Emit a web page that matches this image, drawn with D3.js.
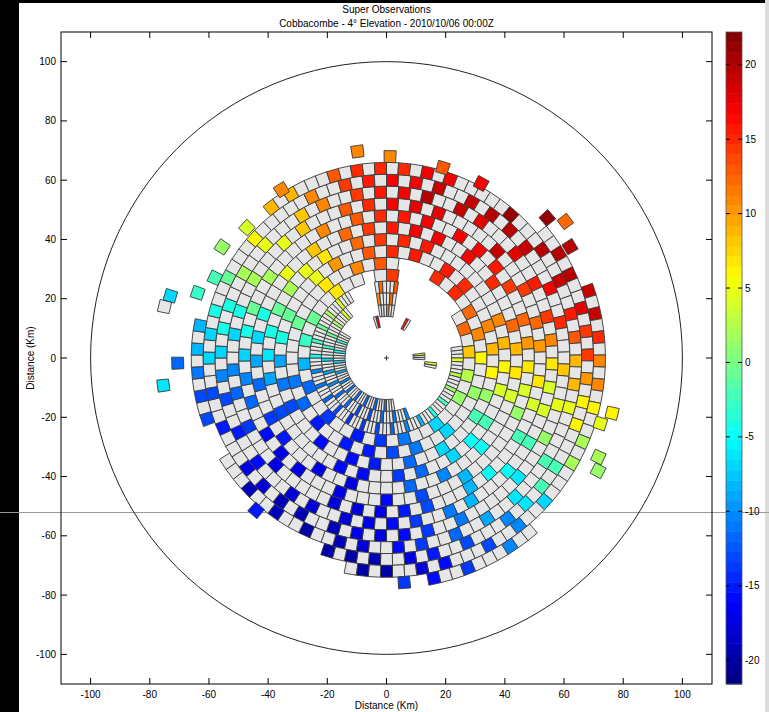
<!DOCTYPE html>
<html>
<head>
<meta charset="utf-8">
<script src="https://cdn.jsdelivr.net/npm/d3@7"></script>
<style>
  body { margin: 0; background: #fff; }
  svg { display: block; font-family: "Liberation Sans", Arial, sans-serif; }
</style>
</head>
<body>
<svg id="chart" width="769" height="712"></svg>
<script>
const NA = null;

// inner edge (km) of each 4 km deep ring of super observations
const ringInner = [14, 18, 22, 26, 30, 34, 38, 42, 46, 50, 54, 58, 62, 66, 70, 74];

// radial velocity (m/s) per ring, one value per 10 deg azimuth sector (0-10, 10-20, ... 350-360)
const obs16 = [11, NA, NA, NA, NA, NA, NA, NA, NA, NA, NA, NA, NA, NA, NA, NA, NA, -10, -11, -12, -12, -12, -11, -11, -10, -8, -7, -5, -3, -1, NA, NA, NA, NA, NA, 10];
const obs20 = [12, NA, NA, NA, NA, NA, NA, NA, NA, NA, NA, NA, NA, NA, NA, NA, -10, -11, -12, -13, -13, -13, -12, -12, -10, -9, -7, -5, -3, -1, 2, 4, NA, NA, NA, 11];
const obs24 = [13, NA, NA, NA, NA, NA, NA, NA, 8, 5, 3, 1, -2, -4, -6, -8, -10, -12, -13, -14, -14, -14, -13, -12, -11, -10, -8, -5, -3, -1, 2, 4, 6, NA, NA, 12];
const obs28 = [14, NA, NA, NA, NA, NA, 12, 10, 8, 6, 3, 1, -2, -4, -7, -9, -11, -13, -14, -15, -15, -15, -14, -13, -12, -10, -8, -6, -3, -1, 2, 4, 7, 9, NA, 13];
const obs32 = [14, NA, NA, 15, 15, 14, 12, 11, 8, 6, 3, 1, -2, -5, -7, -9, -11, -13, -14, -15, -15, -15, -15, -14, -12, -11, -8, -6, -3, -1, 2, 5, 7, 9, 11, 13];
const obs36 = [15, 16, 16, 16, 15, 14, 13, 11, 9, 6, 4, 1, -2, -5, -7, -10, -12, -13, -15, -16, -16, -16, -15, -14, -13, -11, -9, -6, -4, -1, 2, 5, 7, 10, 12, 13];
const obs40 = [15, 16, 16, 16, 16, 15, 13, 11, 9, 6, 4, 1, -2, -5, -7, -10, -12, -14, -15, -16, -16, -16, -16, -15, -13, -11, -9, -6, -4, -1, 2, 5, 7, 10, 12, 14];
const obs44 = [16, 17, 17, 17, 16, 15, 14, 12, 9, 7, 4, 1, -2, -5, -8, -10, -12, -14, -16, -17, -17, -17, -16, -15, -14, -12, -9, -7, -4, -1, 2, 5, 8, 10, 12, 14];
const obs48 = [16, 17, 17, 17, 17, 16, 14, 12, 10, 7, 4, 1, -2, -5, -8, -11, -13, -15, -16, -17, -17, -17, -17, -16, -14, -12, -10, -7, -4, -1, 2, 5, 8, 11, 13, 15];
const obs52 = [17, 18, 18, 18, 19, 16, 14, 12, 10, 7, 4, 1, -2, -5, -8, -11, -13, -15, -17, -18, -18, -18, -17, -16, -14, -12, -10, -7, -4, -1, 2, 5, 8, 11, 13, 15];
const obs56 = [17, 20, 19, 18, 19, 18, 16, 14, 11, 7, 4, 1, -2, -5, -8, -11, -14, -16, -17, -18, -18, -18, -18, -16, -15, -13, -10, -7, -4, -1, 2, 5, 8, 11, 14, 16];
const obs60 = [17, 19, 19, 20, 20, 19, 17, 15, 12, 8, 5, 1, -2, -6, -9, -11, -14, -16, -17, -19, -19, -19, -18, -17, -15, -13, -10, -7, -4, -1, 2, 6, 9, 11, 14, 16];
const obs64 = [15, 17, 20, 19, 21, 20, 19, 16, 13, 9, 5, 2, -2, -6, -9, -12, -14, -16, -18, -19, -20, -19, -19, -17, NA, -13, -11, -8, NA, NA, NA, NA, 9, 12, 13, 15];
const obs68 = [NA, NA, NA, NA, NA, 20, 20, 18, 14, 10, 6, 2, -2, -6, -10, -13, -15, -17, -19, -20, NA, NA, NA, NA, NA, NA, NA, NA, NA, NA, NA, NA, NA, NA, NA, NA];
const obs72 = [NA, NA, NA, NA, NA, NA, NA, 19, 15, 11, 6, 2, -3, -7, -10, -13, -16, -18, -20, NA, NA, NA, NA, NA, NA, NA, NA, NA, NA, NA, NA, NA, NA, NA, NA, NA];
const obs76 = [NA, NA, NA, NA, NA, NA, NA, NA, NA, NA, NA, NA, NA, NA, -10, -14, -16, NA, NA, NA, NA, NA, NA, NA, NA, NA, NA, NA, NA, NA, NA, NA, NA, NA, NA, NA];
const ringValues = [obs16, obs20, obs24, obs28, obs32, obs36, obs40, obs44, obs48, obs52, obs56, obs60, obs64, obs68, obs72, obs76];

// isolated super observations beyond the main area (range km, azimuth deg, value; NA = no colour)
const isoRange   = [70.4, 68, 67, 67, 67, 64.5, 67, 64, 67.5, 76, 77, 70.6, 76, 67.7, 76, 72, 76, 72.5, 78.5, 75.6, 79, 81];
const isoAzimuth = [352, 1, 16.5, 28.5, 328, 313, 304, 295, 289, 286, 283, 268.6, 263, 220.6, 175.5, 49, 52.7, 58.8, 103.7, 107, 115, 118];
const isoValue   = [11, 11, 13, 17, 11, 4, 1, -2, -3, -7, NA, -12, -6, -15, -14, 21, 12, 20, 6, 5, 2, 1];

// small narrow cells close to the radar (range km, azimuth deg, value)
const nearRange   = [12.5, 12.5, 13, 13, 11, 11, 11, 15, 15];
const nearAzimuth = [347, 343.5, 28, 31.5, 84, 87.5, 91, 97, 100.5];
const nearValue   = [17, NA, 16, NA, 5, NA, NA, 4, NA];

const axisTicks = [-100, -80, -60, -40, -20, 0, 20, 40, 60, 80, 100];
const cbTicks = [-20, -15, -10, -5, 0, 5, 10, 15, 20];
const cbMin = -21.6, cbMax = 22.2;

const svg = d3.select("#chart");
const x = d3.scaleLinear().domain([-110, 110]).range([61, 712]);
const y = d3.scaleLinear().domain([-110, 110]).range([684, 32]);
const cb = d3.scaleLinear().domain([cbMin, cbMax]).range([684, 32]);
const rad = Math.PI / 180;

// matlab style jet, 64 levels
function jet(t) {
  const c = v => Math.round(255 * Math.max(0, Math.min(1, v)));
  return `rgb(${c(1.5 - Math.abs(4 * t - 3))},${c(1.5 - Math.abs(4 * t - 2))},${c(1.5 - Math.abs(4 * t - 1))})`;
}
function color(v) {
  let i = Math.floor((v - cbMin) / (cbMax - cbMin) * 64);
  i = Math.max(0, Math.min(63, i));
  return jet((i + 0.5) / 64);
}
function pt(r, az) { return [x(r * Math.sin(az * rad)), y(r * Math.cos(az * rad))]; }
function cellPath(r0, r1, a0, a1) {
  return "M" + [pt(r0, a0), pt(r0, a1), pt(r1, a1), pt(r1, a0)].join("L") + "Z";
}

// frame bits of the screenshot
svg.append("rect").attr("x", 0).attr("y", 0).attr("width", 769).attr("height", 712).attr("fill", "#fff");
svg.append("rect").attr("x", 0).attr("y", 0).attr("width", 19).attr("height", 712).attr("fill", "#000");
svg.append("rect").attr("x", 0).attr("y", 0).attr("width", 765).attr("height", 3).attr("fill", "#000");
svg.append("rect").attr("x", 765).attr("y", 0).attr("width", 4).attr("height", 712).attr("fill", "#dcdcdc");
svg.append("line").attr("x1", 0).attr("x2", 769).attr("y1", 512.5).attr("y2", 512.5)
  .attr("stroke", "#9a9a9a").attr("stroke-width", 1);

// range ring at 100 km
svg.append("ellipse")
  .attr("cx", x(0)).attr("cy", y(0))
  .attr("rx", x(100) - x(0)).attr("ry", y(0) - y(100))
  .attr("fill", "none").attr("stroke", "#222").attr("stroke-width", 1);

// build the cells; coloured ones follow a 4 km checkerboard, never two side by side in a ring
const cells = [];
ringValues.forEach((vals, k) => {
  const r0 = ringInner[k], rc = r0 + 2;
  const n = rc <= 24 ? 120 : Math.round(2 * Math.PI * rc / 4);
  const w = 360 / n;
  let prev = false;
  for (let j = 0; j < n; j++) {
    const azc = (j + 0.5) * w;
    const v = vals[Math.floor(azc / 10)];
    if (v === NA) { prev = false; continue; }
    const ex = rc * Math.sin(azc * rad), ny = rc * Math.cos(azc * rad);
    let colored = rc <= 24 ? (j % 4 === k % 4)
      : ((Math.floor(ex / 4) + Math.floor(ny / 4)) % 2 === 0 && !prev);
    prev = colored;
    cells.push({ d: cellPath(r0, r0 + 4, j * w, (j + 1) * w), v: colored ? v : NA });
  }
});
isoRange.forEach((r, i) => {
  const half = 2 / r / rad;
  cells.push({ d: cellPath(r - 2, r + 2, isoAzimuth[i] - half, isoAzimuth[i] + half), v: isoValue[i] });
});
nearRange.forEach((r, i) => {
  cells.push({ d: cellPath(r - 2, r + 2, nearAzimuth[i] - 1.6, nearAzimuth[i] + 1.6), v: nearValue[i] });
});

svg.append("g").selectAll("path")
  .data(cells)
  .join("path")
  .attr("d", d => d.d)
  .attr("fill", d => d.v === NA ? "#e6e6e6" : color(d.v))
  .attr("stroke", "#3a3a3a")
  .attr("stroke-width", 0.9);

// radar site
svg.append("path")
  .attr("d", `M${x(0) - 2.5},${y(0)}H${x(0) + 2.5}M${x(0)},${y(0) - 2.5}V${y(0) + 2.5}`)
  .attr("stroke", "#333").attr("stroke-width", 1);

// axes box with inward ticks
svg.append("rect").attr("x", 61).attr("y", 32).attr("width", 651).attr("height", 652)
  .attr("fill", "none").attr("stroke", "#000").attr("stroke-width", 1);
const tk = svg.append("g").attr("stroke", "#000").attr("stroke-width", 1);
axisTicks.forEach(t => {
  tk.append("line").attr("x1", x(t)).attr("x2", x(t)).attr("y1", 684).attr("y2", 678);
  tk.append("line").attr("x1", x(t)).attr("x2", x(t)).attr("y1", 32).attr("y2", 38);
  tk.append("line").attr("y1", y(t)).attr("y2", y(t)).attr("x1", 61).attr("x2", 67);
  tk.append("line").attr("y1", y(t)).attr("y2", y(t)).attr("x1", 712).attr("x2", 706);
});
svg.append("g").selectAll("text").data(axisTicks).join("text")
  .attr("x", d => x(d)).attr("y", 698)
  .attr("text-anchor", "middle").attr("font-size", 10).text(d => d);
svg.append("g").selectAll("text").data(axisTicks).join("text")
  .attr("x", 56).attr("y", d => y(d) + 3.5)
  .attr("text-anchor", "end").attr("font-size", 10).text(d => d);

svg.append("text").attr("x", x(0)).attr("y", 709).attr("text-anchor", "middle")
  .attr("font-size", 10).text("Distance (Km)");
svg.append("text").attr("transform", `translate(34,${y(0)}) rotate(-90)`).attr("text-anchor", "middle")
  .attr("font-size", 10).text("Distance (Km)");
svg.append("text").attr("x", x(0)).attr("y", 13).attr("text-anchor", "middle")
  .attr("font-size", 10).text("Super Observations");
svg.append("text").attr("x", x(0)).attr("y", 27).attr("text-anchor", "middle")
  .attr("font-size", 10).text("Cobbacombe - 4° Elevation - 2010/10/06 00:00Z");

// colour bar
const levels = d3.range(64);
const step = (cbMax - cbMin) / 64;
svg.append("g").selectAll("rect").data(levels).join("rect")
  .attr("x", 726).attr("width", 16)
  .attr("y", i => cb(cbMin + (i + 1) * step))
  .attr("height", i => cb(cbMin + i * step) - cb(cbMin + (i + 1) * step) + 0.5)
  .attr("fill", i => jet((i + 0.5) / 64));
svg.append("rect").attr("x", 726).attr("y", 32).attr("width", 16).attr("height", 652)
  .attr("fill", "none").attr("stroke", "#555").attr("stroke-width", 0.8);
const cbt = svg.append("g").attr("stroke", "#000").attr("stroke-width", 1);
cbTicks.forEach(t => {
  cbt.append("line").attr("x1", 726).attr("x2", 730).attr("y1", cb(t)).attr("y2", cb(t));
  cbt.append("line").attr("x1", 738).attr("x2", 742).attr("y1", cb(t)).attr("y2", cb(t));
});
svg.append("g").selectAll("text").data(cbTicks).join("text")
  .attr("x", 745).attr("y", d => cb(d) + 3.5)
  .attr("font-size", 10).text(d => d);
</script>
</body>
</html>
